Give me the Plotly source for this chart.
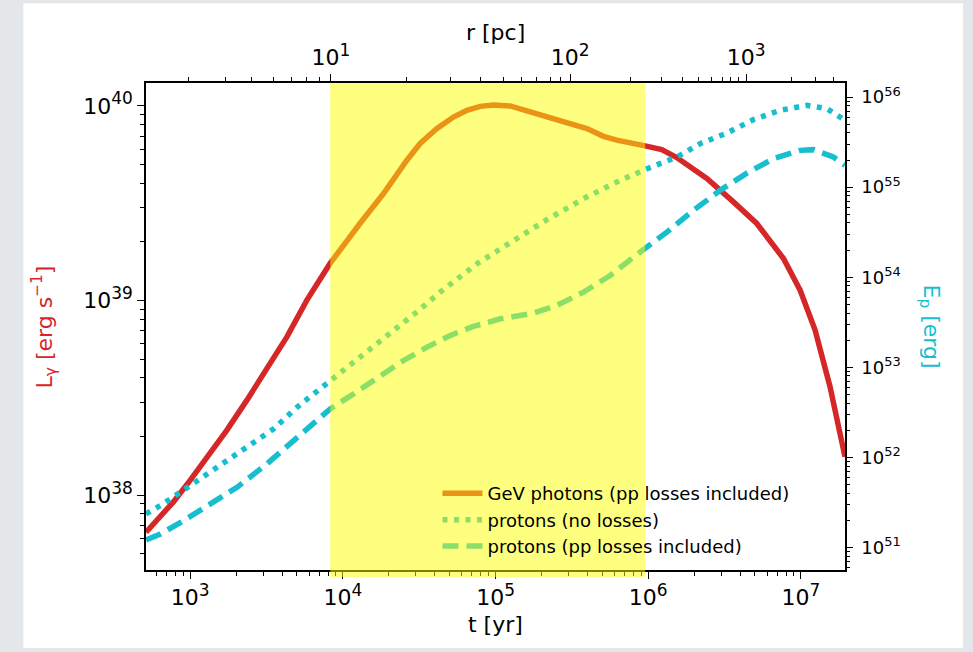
import plotly.graph_objects as go

# ---------------- data ----------------
# GeV photon luminosity L_gamma [erg/s] vs t [yr]
t_gamma = [513, 778, 1000, 1285, 1738, 2350, 3177, 4295, 5808, 8260, 12970, 18450,
           26240, 32060, 41300, 52970, 64860, 79250, 96830, 124700, 168700, 228000,
           308300, 396300, 509300, 622300, 955000, 1.227e6, 1.538e6, 2.421e6, 3.614e6,
           5.140e6, 7.691e6, 9.886e6, 1.239e7, 1.552e7, 1.945e7]
L_gamma = [6.44e37, 9.25e37, 1.194e38, 1.545e38, 2.158e38, 3.076e38, 4.477e38, 6.501e38,
           1.005e39, 1.556e39, 2.495e39, 3.548e39, 5.260e39, 6.412e39, 7.656e39, 8.770e39,
           9.506e39, 9.954e39, 1.012e40, 1.000e40, 9.311e39, 8.710e39, 8.222e39, 7.656e39,
           6.982e39, 6.668e39, 6.237e39, 5.970e39, 5.433e39, 4.236e39, 3.214e39, 2.489e39,
           1.644e39, 1.130e39, 7.047e38, 3.606e38, 1.574e38]

# proton energy, no losses
t_p_noloss = [513, 637, 861, 1222, 1738, 2472, 3516, 5000, 7096, 8260, 11750, 15890,
              22590, 31330, 43350, 75510, 124700, 216800, 376700, 654600, 979500,
              1.538e6, 2.188e6, 3.273e6, 4.887e6, 7.311e6, 1.094e7, 1.479e7, 1.945e7]
E_p_noloss = [2.355e51, 2.911e51, 4.093e51, 6.152e51, 9.204e51, 1.409e52, 2.070e52,
              3.597e52, 5.754e52, 7.112e52, 1.138e53, 1.698e53, 2.673e53, 4.266e53,
              6.823e53, 1.409e54, 2.415e54, 4.345e54, 7.447e54, 1.189e55, 1.596e55,
              2.158e55, 3.041e55, 3.981e55, 5.610e55, 7.129e55, 8.091e55, 7.447e55, 5.521e55]

# proton energy, pp losses included
t_p_loss = [513, 637, 904, 1285, 2023, 3177, 4753, 7096, 8260, 11750, 16710, 24950,
            35480, 50470, 71610, 107200, 177000, 252300, 376700, 563600, 799800, 979500,
            1.324e6, 1.977e6, 2.958e6, 4.426e6, 6.607e6, 9.886e6, 1.208e7, 1.633e7, 1.945e7]
E_p_loss = [1.211e51, 1.409e51, 1.982e51, 2.858e51, 4.645e51, 8.453e51, 1.535e52,
            2.673e52, 3.451e52, 5.070e52, 7.551e52, 1.189e53, 1.671e53, 2.254e53,
            2.838e53, 3.451e53, 3.981e53, 4.853e53, 6.823e53, 1.045e54, 1.671e54,
            2.158e54, 3.162e54, 5.521e54, 9.204e54, 1.432e55, 2.070e55, 2.559e55,
            2.606e55, 2.158e55, 1.746e55]

# shaded interval in t [yr]
shade_t = [8260, 9.55e5]

# axis ticks
x_major_exp = [3, 4, 5, 6, 7]
yl_major_exp = [38, 39, 40]
yr_major_exp = [51, 52, 53, 54, 55, 56]
# top axis: radius r [pc] ticks and the times t [yr] where they sit
r_major_exp = [1, 2, 3]
r_major_t = [8337, 308300, 4.375e6]
r_minor_t = [975, 1714, 2535, 3516, 4592, 5754, 7031,
             26240, 50470, 79250, 112700, 148600, 186600, 228000, 267900,
             762100, 1.227e6, 1.687e6, 2.138e6, 2.612e6, 3.083e6, 3.475e6, 3.899e6,
             8.730e6, 1.239e7, 1.633e7]

legend_names = ["GeV photons (pp losses included)", "protons (no losses)",
                "protons (pp losses included)"]

# ---------------- styling ----------------
RED = "#d62728"
CYAN = "#17becf"
ORANGE = "#ea9314"   # red seen through the yellow band
GREEN = "#8bde67"    # cyan seen through the yellow band
FONT = "DejaVu Sans"
LW = 5.5
DOT = "5px,6.5px"
DASH = "16px,8px"


def minor_vals(lo, hi):
    return [float(m) * 10.0 ** e for e in range(lo, hi) for m in range(2, 10)]


def major_vals(exps):
    return [10.0 ** e for e in exps]


def pow_labels(exps, sup_px):
    return [f"10<sup><span style='font-size:{sup_px}px'>{e}</span></sup>" for e in exps]


fig = go.Figure()

fig.add_trace(go.Scatter(x=t_gamma, y=L_gamma, mode="lines", xaxis="x", yaxis="y",
                         line=dict(color=RED, width=LW), showlegend=False))
fig.add_trace(go.Scatter(x=t_p_noloss, y=E_p_noloss, mode="lines", xaxis="x", yaxis="y2",
                         line=dict(color=CYAN, width=LW, dash=DOT), showlegend=False))
fig.add_trace(go.Scatter(x=t_p_loss, y=E_p_loss, mode="lines", xaxis="x", yaxis="y2",
                         line=dict(color=CYAN, width=LW, dash=DASH), showlegend=False))

# legend entries (colours as they appear under the yellow band)
for name, col, dash in zip(legend_names, [ORANGE, GREEN, GREEN], ["solid", DOT, DASH]):
    fig.add_trace(go.Scatter(x=[None], y=[None], mode="lines", name=name,
                             line=dict(color=col, width=LW, dash=dash), xaxis="x", yaxis="y"))

# invisible carrier for the top axis
fig.add_trace(go.Scatter(x=r_major_t, y=[1e39] * len(r_major_t), mode="markers",
                         marker=dict(opacity=0), xaxis="x2", yaxis="y",
                         showlegend=False, hoverinfo="skip"))

XR = [2.710, 7.289]
tickfont = dict(family=FONT, size=22, color="black")

fig.update_layout(
    width=973, height=652,
    margin=dict(l=146, r=128, t=83, b=82),
    paper_bgcolor="#e4e7ea",
    plot_bgcolor="white",
    font=dict(family=FONT, color="black"),
    xaxis=dict(type="log", range=XR, showline=True, linecolor="black", linewidth=1.5,
               mirror=False, showgrid=False, zeroline=False,
               tickmode="array", tickvals=major_vals(x_major_exp),
               ticktext=pow_labels(x_major_exp, 17),
               ticks="outside", ticklen=7, tickwidth=1.3, tickcolor="black",
               tickfont=tickfont,
               minor=dict(tickmode="array", tickvals=minor_vals(2, 8), ticks="outside",
                          ticklen=4, tickwidth=1, tickcolor="black")),
    xaxis2=dict(type="log", range=XR, overlaying="x", side="top", anchor="y",
                showline=True, linecolor="black", linewidth=1.5, showgrid=False,
                zeroline=False, tickmode="array", tickvals=r_major_t,
                ticktext=pow_labels(r_major_exp, 17),
                ticks="outside", ticklen=7, tickwidth=1.3, tickcolor="black",
                tickfont=tickfont,
                minor=dict(tickmode="array", tickvals=r_minor_t, ticks="outside",
                           ticklen=4, tickwidth=1, tickcolor="black")),
    yaxis=dict(type="log", range=[37.615, 40.118], showline=True, linecolor="black",
               linewidth=1.5, showgrid=False, zeroline=False,
               tickmode="array", tickvals=major_vals(yl_major_exp),
               ticktext=pow_labels(yl_major_exp, 17),
               ticks="outside", ticklen=7, tickwidth=1.3, tickcolor="black",
               tickfont=tickfont,
               minor=dict(tickmode="array", tickvals=minor_vals(37, 41), ticks="outside",
                          ticklen=4, tickwidth=1, tickcolor="black")),
    yaxis2=dict(type="log", range=[50.749, 56.156], overlaying="y", side="right",
                anchor="x", showline=True, linecolor="black", linewidth=1.5,
                showgrid=False, zeroline=False,
                tickmode="array", tickvals=major_vals(yr_major_exp),
                ticktext=pow_labels(yr_major_exp, 13),
                ticks="outside", ticklen=6, tickwidth=1.2, tickcolor="black",
                ticklabelstandoff=5,
                tickfont=dict(family=FONT, size=18, color="black"),
                minor=dict(tickmode="array", tickvals=minor_vals(50, 57), ticks="outside",
                           ticklen=3.5, tickwidth=1, tickcolor="black")),
    legend=dict(x=0.417, y=0.195, xanchor="left", yanchor="top",
                bgcolor="rgba(0,0,0,0)", font=dict(family=FONT, size=18, color="black"),
                itemwidth=40, tracegroupgap=0),
    showlegend=True,
)

# white page panel behind the chart
fig.add_shape(type="rect", xref="paper", yref="paper", x0=-0.1755, x1=1.1687,
              y0=-0.160, y1=1.1636, fillcolor="white", line=dict(width=0), layer="below")

# translucent yellow band drawn on top of the curves
fig.add_shape(type="rect", xref="x", yref="paper", x0=shade_t[0], x1=shade_t[1],
              y0=-0.0144, y1=1.0, fillcolor="rgba(255,255,0,0.5)",
              line=dict(width=0), layer="above")

# axis titles
fig.add_annotation(text="t [yr]", xref="paper", yref="paper", x=0.5, y=-0.112,
                   xanchor="center", yanchor="middle", showarrow=False,
                   font=dict(family=FONT, size=22, color="black"))
fig.add_annotation(text="r [pc]", xref="paper", yref="paper", x=0.5, y=1.104,
                   xanchor="center", yanchor="middle", showarrow=False,
                   font=dict(family=FONT, size=22, color="black"))
fig.add_annotation(text="L<sub>γ</sub> [erg s<sup>−1</sup>]", xref="paper", yref="paper",
                   x=-0.146, y=0.50, xanchor="center", yanchor="middle",
                   textangle=-90, showarrow=False,
                   font=dict(family=FONT, size=22, color=RED))
fig.add_annotation(text="E<sub>p</sub> [erg]", xref="paper", yref="paper",
                   x=1.1216, y=0.50, xanchor="center", yanchor="middle",
                   textangle=90, showarrow=False,
                   font=dict(family=FONT, size=22, color=CYAN))

fig.write_html("out.html")
